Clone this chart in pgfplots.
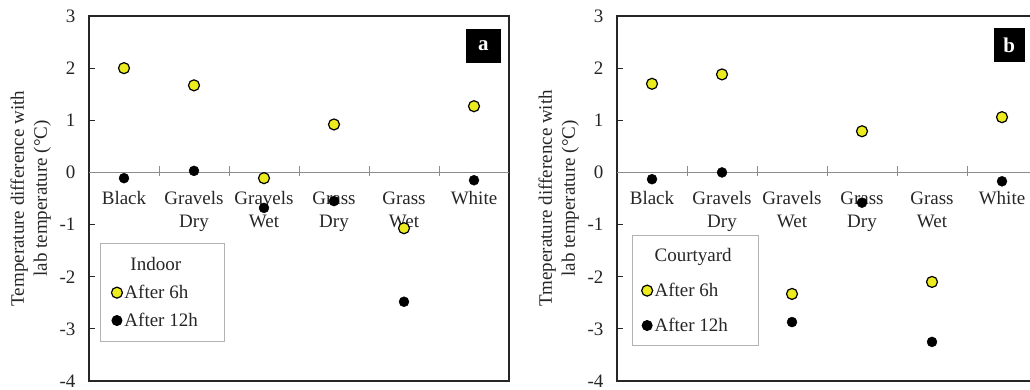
\documentclass[border=0pt]{standalone}
\usepackage{pgfplots}
\pgfplotsset{compat=1.18}
\usepackage{fontspec}
\setmainfont{Liberation Serif}
\definecolor{myyellow}{RGB}{235,235,30}
\newcommand{\fnt}{\fontsize{19}{23}\selectfont}
\begin{document}
\begin{tikzpicture}
\pgfplotsset{
  panel/.style={
    width=420pt, height=365pt, scale only axis,
    xmin=0.5, xmax=6.5, ymin=-4, ymax=3,
    ytick={-4,...,3}, yticklabels={-4,-3,-2,-1,0,1,2,3},
    xtick={1,...,6},
    xticklabels={Black, Gravels\\Dry, Gravels\\Wet, Grass\\Dry, Grass\\Wet, White},
    x tick style={draw=none},
    xticklabel style={align=center, yshift=193pt, font=\fnt, text=black!85},
    yticklabel style={font=\fnt, xshift=-10pt, inner ysep=0pt, text=black!85},
    y tick style={black!85, line width=1pt},
    tick align=inside, major tick length=6pt,
    axis line style={black!85, line width=1.6pt},
    ytick pos=left,
    clip=false,
    legend cell align=left,
    ylabel style={at={(rel axis cs:-0.139,0.5)}, anchor=center, align=center, font=\fnt, text=black!85},
  },
  six/.style={only marks, mark=*, mark size=5.5pt, mark options={fill=myyellow, draw=black, line width=1.2pt}},
  twelve/.style={only marks, mark=*, mark size=5pt, mark options={fill=black, draw=black}},
}
\begin{axis}[panel, at={(89pt,8pt)}, anchor=south west,
  ylabel={Temperature difference with\\lab temperature (°C)},
  legend style={at={(0.026,0.378)}, anchor=north west, draw=black!30, line width=1pt, font=\fnt, row sep=9pt, inner xsep=8pt, inner ysep=12pt, text=black!85}]
\draw[black!45, line width=1pt] (axis cs:0.5,0) -- (axis cs:6.5,0);
\pgfplotsinvokeforeach{1.5,2.5,3.5,4.5,5.5}{\draw[black!45, line width=1pt] (axis cs:#1,-0.06) -- (axis cs:#1,0.12);}
\addlegendimage{empty legend}\addlegendentry{\hspace{6pt}Indoor}
\addplot[six] coordinates {(1,2.00) (2,1.67) (3,-0.11) (4,0.92) (5,-1.07) (6,1.27)};
\addlegendentry{After 6h}
\addplot[twelve] coordinates {(1,-0.11) (2,0.03) (3,-0.68) (4,-0.55) (5,-2.48) (6,-0.15)};
\addlegendentry{After 12h\rule{17pt}{0pt}}
\node[fill=black, text=white, font=\bfseries\fontsize{21}{24}\selectfont, minimum width=35pt, minimum height=34pt, inner sep=0pt] at (rel axis cs:0.939,0.918) {a};
\end{axis}
\begin{axis}[panel, at={(617pt,8pt)}, anchor=south west,
  ylabel={Tmeperature difference with\\lab temperature (°C)},
  legend style={at={(0.036,0.40)}, anchor=north west, draw=black!30, line width=1pt, font=\fnt, row sep=16pt, inner xsep=6pt, inner ysep=11pt, text=black!85}]
\draw[black!45, line width=1pt] (axis cs:0.5,0) -- (axis cs:6.5,0);
\pgfplotsinvokeforeach{1.5,2.5,3.5,4.5,5.5}{\draw[black!45, line width=1pt] (axis cs:#1,-0.06) -- (axis cs:#1,0.12);}
\addlegendimage{empty legend}\addlegendentry{Courtyard}
\addplot[six] coordinates {(1,1.70) (2,1.88) (3,-2.33) (4,0.79) (5,-2.10) (6,1.06)};
\addlegendentry{After 6h}
\addplot[twelve] coordinates {(1,-0.13) (2,0.00) (3,-2.87) (4,-0.58) (5,-3.25) (6,-0.17)};
\addlegendentry{After 12h\rule{22pt}{0pt}}
\node[fill=black, text=white, font=\bfseries\fontsize{21}{24}\selectfont, minimum width=31pt, minimum height=34pt, inner sep=0pt] at (rel axis cs:0.934,0.92) {b};
\end{axis}
\pgfresetboundingbox
\path[use as bounding box] (0pt,0pt) rectangle (1030pt,389pt);
\end{tikzpicture}
\end{document}
